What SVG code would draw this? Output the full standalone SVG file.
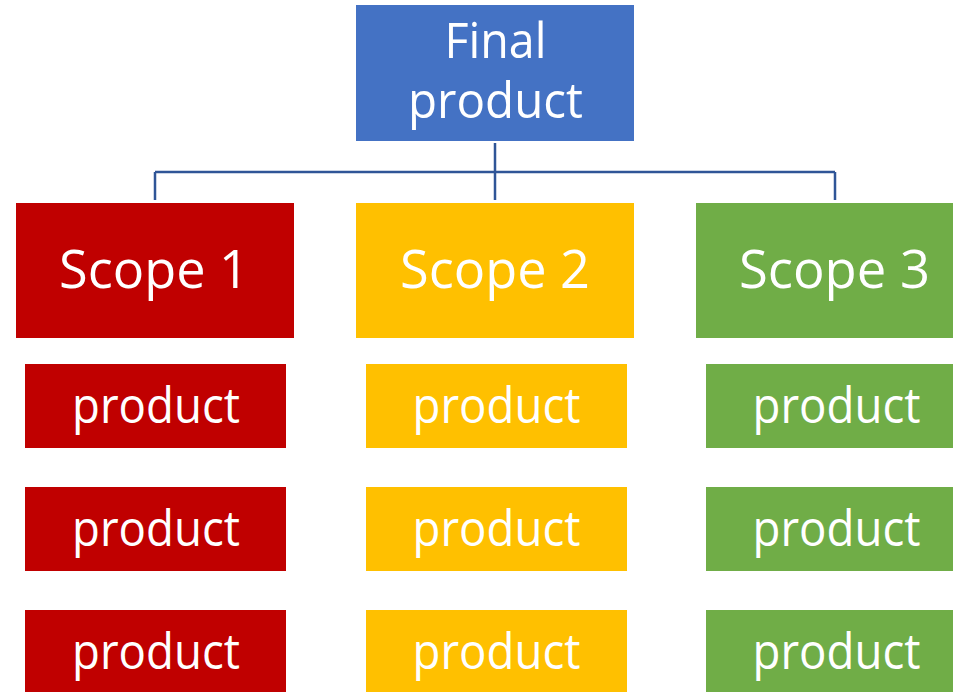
<svg xmlns="http://www.w3.org/2000/svg" width="953" height="692" viewBox="0 0 953 692">
<style>
.t{font-family:"Open Sans","Noto Sans","Liberation Sans",sans-serif;fill:#fff;text-anchor:middle}
.p{font-size:50px}
.s{font-size:53px}
.red{fill:#C00000}.yel{fill:#FFC000}.grn{fill:#70AD47}.blu{fill:#4472C4}
.c{stroke:#2F5597;stroke-width:2.5;fill:none}
</style>
<rect width="953" height="692" fill="#fff"/>
<g id="connectors">
<path class="c" d="M495,143V200M155,172H835M155,172V200M835,172V200"/>
</g>
<g id="final"><rect class="blu" x="356" y="5" width="278" height="136"/>
<text class="t p" x="495.5" y="58" textLength="102" lengthAdjust="spacingAndGlyphs">Final</text>
<text class="t p" x="495.5" y="118" textLength="175" lengthAdjust="spacingAndGlyphs">product</text></g>
<g id="scope1"><rect class="red" x="16" y="203" width="278" height="135"/><text class="t s" x="154" y="288" textLength="190" lengthAdjust="spacingAndGlyphs">Scope 1</text></g>
<g id="scope2"><rect class="yel" x="356" y="203" width="278" height="135"/><text class="t s" x="495" y="288" textLength="190" lengthAdjust="spacingAndGlyphs">Scope 2</text></g>
<g id="scope3"><rect class="grn" x="696" y="203" width="260" height="135"/><text class="t s" x="834.5" y="288" textLength="191" lengthAdjust="spacingAndGlyphs">Scope 3</text></g>
<g id="r1"><rect class="red" x="25" y="364" width="261" height="84"/><text class="t p" x="156" y="423" textLength="168" lengthAdjust="spacingAndGlyphs">product</text></g>
<g id="r2"><rect class="red" x="25" y="487" width="261" height="84"/><text class="t p" x="156" y="546" textLength="168" lengthAdjust="spacingAndGlyphs">product</text></g>
<g id="r3"><rect class="red" x="25" y="610" width="261" height="84"/><text class="t p" x="156" y="669" textLength="168" lengthAdjust="spacingAndGlyphs">product</text></g>
<g id="y1"><rect class="yel" x="366" y="364" width="261" height="84"/><text class="t p" x="496.5" y="423" textLength="168" lengthAdjust="spacingAndGlyphs">product</text></g>
<g id="y2"><rect class="yel" x="366" y="487" width="261" height="84"/><text class="t p" x="496.5" y="546" textLength="168" lengthAdjust="spacingAndGlyphs">product</text></g>
<g id="y3"><rect class="yel" x="366" y="610" width="261" height="84"/><text class="t p" x="496.5" y="669" textLength="168" lengthAdjust="spacingAndGlyphs">product</text></g>
<g id="g1"><rect class="grn" x="706" y="364" width="250" height="84"/><text class="t p" x="836.5" y="423" textLength="168" lengthAdjust="spacingAndGlyphs">product</text></g>
<g id="g2"><rect class="grn" x="706" y="487" width="250" height="84"/><text class="t p" x="836.5" y="546" textLength="168" lengthAdjust="spacingAndGlyphs">product</text></g>
<g id="g3"><rect class="grn" x="706" y="610" width="250" height="84"/><text class="t p" x="836.5" y="669" textLength="168" lengthAdjust="spacingAndGlyphs">product</text></g>
</svg>
